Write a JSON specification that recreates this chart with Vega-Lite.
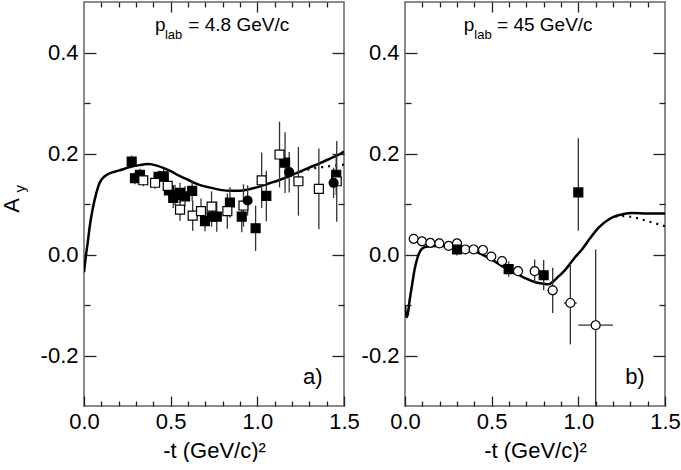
{
  "$schema": "https://vega.github.io/schema/vega-lite/v6.json",
  "background": "white",
  "padding": {"left": 0, "top": 0, "right": 0, "bottom": 0},
  "spacing": -1,
  "config": {
    "font": "Liberation Sans",
    "view": {"stroke": "#666", "strokeWidth": 1.5},
    "axis": {
      "labelFont": "Liberation Sans", "titleFont": "Liberation Sans",
      "labelFontSize": 22, "titleFontSize": 22, "titleFontWeight": "normal",
      "labelColor": "black", "titleColor": "black",
      "domain": false, "grid": false, "tickColor": "#222", "tickWidth": 1.3,
      "labelFlush": false, "labelOverlap": false
    }
  },
  "datasets": {
    "pts": [
      {"p":"a","s":"fsq","x":0.275,"y":0.184,"lo":0.172,"hi":0.196},
      {"p":"a","s":"fsq","x":0.294,"y":0.151,"lo":0.139,"hi":0.163},
      {"p":"a","s":"fsq","x":0.323,"y":0.158,"lo":0.146,"hi":0.170},
      {"p":"a","s":"fsq","x":0.43,"y":0.154,"lo":0.142,"hi":0.166},
      {"p":"a","s":"fsq","x":0.46,"y":0.155,"lo":0.140,"hi":0.170},
      {"p":"a","s":"fsq","x":0.49,"y":0.127,"lo":0.112,"hi":0.142},
      {"p":"a","s":"fsq","x":0.515,"y":0.112,"lo":0.092,"hi":0.132},
      {"p":"a","s":"fsq","x":0.525,"y":0.118,"lo":0.098,"hi":0.138},
      {"p":"a","s":"fsq","x":0.554,"y":0.122,"lo":0.102,"hi":0.142},
      {"p":"a","s":"fsq","x":0.583,"y":0.115,"lo":0.095,"hi":0.135},
      {"p":"a","s":"fsq","x":0.624,"y":0.126,"lo":0.106,"hi":0.146},
      {"p":"a","s":"fsq","x":0.698,"y":0.066,"lo":0.046,"hi":0.086},
      {"p":"a","s":"fsq","x":0.736,"y":0.075,"lo":0.055,"hi":0.095},
      {"p":"a","s":"fsq","x":0.766,"y":0.075,"lo":0.045,"hi":0.105},
      {"p":"a","s":"fsq","x":0.842,"y":0.103,"lo":0.073,"hi":0.133},
      {"p":"a","s":"fsq","x":0.91,"y":0.075,"lo":0.044,"hi":0.106},
      {"p":"a","s":"fsq","x":0.99,"y":0.052,"lo":0.007,"hi":0.097},
      {"p":"a","s":"fsq","x":1.052,"y":0.116,"lo":0.066,"hi":0.166},
      {"p":"a","s":"fsq","x":1.16,"y":0.182,"lo":0.122,"hi":0.242},
      {"p":"a","s":"fsq","x":1.455,"y":0.158,"lo":0.118,"hi":0.198},
      {"p":"a","s":"osq","x":0.342,"y":0.147,"lo":0.135,"hi":0.159},
      {"p":"a","s":"osq","x":0.41,"y":0.142,"lo":0.130,"hi":0.154},
      {"p":"a","s":"osq","x":0.483,"y":0.136,"lo":0.121,"hi":0.151},
      {"p":"a","s":"osq","x":0.554,"y":0.089,"lo":0.067,"hi":0.111},
      {"p":"a","s":"osq","x":0.627,"y":0.077,"lo":0.047,"hi":0.107},
      {"p":"a","s":"osq","x":0.675,"y":0.086,"lo":0.061,"hi":0.111},
      {"p":"a","s":"osq","x":0.736,"y":0.095,"lo":0.065,"hi":0.125},
      {"p":"a","s":"osq","x":0.827,"y":0.086,"lo":0.051,"hi":0.121},
      {"p":"a","s":"osq","x":0.92,"y":0.097,"lo":0.055,"hi":0.139},
      {"p":"a","s":"osq","x":1.025,"y":0.147,"lo":0.092,"hi":0.202},
      {"p":"a","s":"osq","x":1.128,"y":0.198,"lo":0.133,"hi":0.263},
      {"p":"a","s":"osq","x":1.237,"y":0.145,"lo":0.077,"hi":0.213},
      {"p":"a","s":"osq","x":1.355,"y":0.130,"lo":0.050,"hi":0.210},
      {"p":"a","s":"osq","x":1.458,"y":0.145,"lo":0.065,"hi":0.225},
      {"p":"a","s":"fci","x":0.944,"y":0.107,"lo":0.077,"hi":0.137},
      {"p":"a","s":"fci","x":1.184,"y":0.163,"lo":0.123,"hi":0.203},
      {"p":"a","s":"fci","x":1.44,"y":0.142,"lo":0.112,"hi":0.172},
      {"p":"b","s":"oci","x":0.05,"y":0.031,"lo":0.026,"hi":0.036},
      {"p":"b","s":"oci","x":0.098,"y":0.026,"lo":0.021,"hi":0.031},
      {"p":"b","s":"oci","x":0.146,"y":0.023,"lo":0.018,"hi":0.028},
      {"p":"b","s":"oci","x":0.198,"y":0.022,"lo":0.017,"hi":0.027},
      {"p":"b","s":"oci","x":0.252,"y":0.017,"lo":0.012,"hi":0.022},
      {"p":"b","s":"oci","x":0.30,"y":0.022,"lo":0.017,"hi":0.027},
      {"p":"b","s":"oci","x":0.348,"y":0.010,"lo":0.005,"hi":0.015},
      {"p":"b","s":"oci","x":0.396,"y":0.010,"lo":0.005,"hi":0.015},
      {"p":"b","s":"oci","x":0.45,"y":0.009,"lo":0.004,"hi":0.014},
      {"p":"b","s":"oci","x":0.498,"y":-0.004,"lo":-0.009,"hi":0.001},
      {"p":"b","s":"oci","x":0.56,"y":-0.013,"lo":-0.018,"hi":-0.008},
      {"p":"b","s":"oci","x":0.652,"y":-0.033,"lo":-0.043,"hi":-0.023,"xl":0.622,"xh":0.682},
      {"p":"b","s":"oci","x":0.748,"y":-0.033,"lo":-0.056,"hi":-0.010,"xl":0.72,"xh":0.776},
      {"p":"b","s":"oci","x":0.852,"y":-0.071,"lo":-0.116,"hi":-0.026,"xl":0.822,"xh":0.882},
      {"p":"b","s":"oci","x":0.954,"y":-0.096,"lo":-0.178,"hi":-0.018,"xl":0.917,"xh":0.991},
      {"p":"b","s":"oci","x":1.10,"y":-0.140,"lo":-0.32,"hi":0.01,"xl":1.0,"xh":1.2},
      {"p":"b","s":"fsq","x":0.30,"y":0.010,"lo":-0.002,"hi":0.022},
      {"p":"b","s":"fsq","x":0.598,"y":-0.029,"lo":-0.044,"hi":-0.014},
      {"p":"b","s":"fsq","x":0.80,"y":-0.041,"lo":-0.071,"hi":-0.011},
      {"p":"b","s":"fsq","x":1.0,"y":0.123,"lo":0.047,"hi":0.230}
    ],
    "curves": [
      {"p":"a","c":"solid","x":0.0,"y":-0.035},
      {"p":"a","c":"solid","x":0.01,"y":-0.005},
      {"p":"a","c":"solid","x":0.02,"y":0.02},
      {"p":"a","c":"solid","x":0.035,"y":0.06},
      {"p":"a","c":"solid","x":0.05,"y":0.09},
      {"p":"a","c":"solid","x":0.07,"y":0.12},
      {"p":"a","c":"solid","x":0.09,"y":0.142},
      {"p":"a","c":"solid","x":0.12,"y":0.155},
      {"p":"a","c":"solid","x":0.15,"y":0.161},
      {"p":"a","c":"solid","x":0.2,"y":0.166},
      {"p":"a","c":"solid","x":0.265,"y":0.173},
      {"p":"a","c":"solid","x":0.32,"y":0.177},
      {"p":"a","c":"solid","x":0.37,"y":0.179},
      {"p":"a","c":"solid","x":0.42,"y":0.176},
      {"p":"a","c":"solid","x":0.46,"y":0.171},
      {"p":"a","c":"solid","x":0.5,"y":0.165},
      {"p":"a","c":"solid","x":0.554,"y":0.155},
      {"p":"a","c":"solid","x":0.6,"y":0.148},
      {"p":"a","c":"solid","x":0.65,"y":0.14},
      {"p":"a","c":"solid","x":0.72,"y":0.133},
      {"p":"a","c":"solid","x":0.785,"y":0.128},
      {"p":"a","c":"solid","x":0.85,"y":0.126},
      {"p":"a","c":"solid","x":0.9,"y":0.126},
      {"p":"a","c":"solid","x":0.95,"y":0.129},
      {"p":"a","c":"solid","x":1.016,"y":0.135},
      {"p":"a","c":"solid","x":1.07,"y":0.141},
      {"p":"a","c":"solid","x":1.131,"y":0.148},
      {"p":"a","c":"solid","x":1.19,"y":0.156},
      {"p":"a","c":"solid","x":1.246,"y":0.164},
      {"p":"a","c":"solid","x":1.3,"y":0.172},
      {"p":"a","c":"solid","x":1.362,"y":0.181},
      {"p":"a","c":"solid","x":1.42,"y":0.19},
      {"p":"a","c":"solid","x":1.477,"y":0.199},
      {"p":"a","c":"solid","x":1.5,"y":0.204},
      {"p":"a","c":"dot","x":1.25,"y":0.164},
      {"p":"a","c":"dot","x":1.3,"y":0.169},
      {"p":"a","c":"dot","x":1.4,"y":0.174},
      {"p":"a","c":"dot","x":1.5,"y":0.178},
      {"p":"b","c":"solid","x":0.0,"y":-0.10},
      {"p":"b","c":"solid","x":0.008,"y":-0.124},
      {"p":"b","c":"solid","x":0.015,"y":-0.12},
      {"p":"b","c":"solid","x":0.025,"y":-0.095},
      {"p":"b","c":"solid","x":0.04,"y":-0.062},
      {"p":"b","c":"solid","x":0.055,"y":-0.03},
      {"p":"b","c":"solid","x":0.069,"y":-0.01},
      {"p":"b","c":"solid","x":0.085,"y":0.005},
      {"p":"b","c":"solid","x":0.1,"y":0.012},
      {"p":"b","c":"solid","x":0.13,"y":0.016},
      {"p":"b","c":"solid","x":0.175,"y":0.017},
      {"p":"b","c":"solid","x":0.22,"y":0.017},
      {"p":"b","c":"solid","x":0.271,"y":0.015},
      {"p":"b","c":"solid","x":0.32,"y":0.012},
      {"p":"b","c":"solid","x":0.367,"y":0.009},
      {"p":"b","c":"solid","x":0.42,"y":0.004},
      {"p":"b","c":"solid","x":0.463,"y":-0.003},
      {"p":"b","c":"solid","x":0.51,"y":-0.012},
      {"p":"b","c":"solid","x":0.56,"y":-0.023},
      {"p":"b","c":"solid","x":0.61,"y":-0.032},
      {"p":"b","c":"solid","x":0.656,"y":-0.04},
      {"p":"b","c":"solid","x":0.70,"y":-0.048},
      {"p":"b","c":"solid","x":0.752,"y":-0.055},
      {"p":"b","c":"solid","x":0.8,"y":-0.058},
      {"p":"b","c":"solid","x":0.829,"y":-0.059},
      {"p":"b","c":"solid","x":0.86,"y":-0.052},
      {"p":"b","c":"solid","x":0.887,"y":-0.043},
      {"p":"b","c":"solid","x":0.915,"y":-0.034},
      {"p":"b","c":"solid","x":0.944,"y":-0.022},
      {"p":"b","c":"solid","x":0.98,"y":-0.006},
      {"p":"b","c":"solid","x":1.021,"y":0.01},
      {"p":"b","c":"solid","x":1.07,"y":0.033},
      {"p":"b","c":"solid","x":1.117,"y":0.053},
      {"p":"b","c":"solid","x":1.16,"y":0.066},
      {"p":"b","c":"solid","x":1.213,"y":0.076},
      {"p":"b","c":"solid","x":1.26,"y":0.08},
      {"p":"b","c":"solid","x":1.31,"y":0.082},
      {"p":"b","c":"solid","x":1.4,"y":0.081},
      {"p":"b","c":"solid","x":1.5,"y":0.081},
      {"p":"b","c":"dot","x":1.213,"y":0.075},
      {"p":"b","c":"dot","x":1.27,"y":0.076},
      {"p":"b","c":"dot","x":1.327,"y":0.073},
      {"p":"b","c":"dot","x":1.4,"y":0.066},
      {"p":"b","c":"dot","x":1.5,"y":0.056}
    ],
    "ann": [
      {"p":"a","k":"main","x":0.41,"y":0.4426,"t":"p"},
      {"p":"a","k":"sub","x":0.467,"y":0.4276,"t":"lab"},
      {"p":"a","k":"main","x":0.602,"y":0.4426,"t":"= 4.8 GeV/c"},
      {"p":"a","k":"tag","x":1.264,"y":-0.256,"t":"a)"},
      {"p":"a","k":"ytitle","x":-0.415,"y":0.097,"t":"A"},
      {"p":"a","k":"ysub","x":-0.37,"y":0.13,"t":"y"},
      {"p":"b","k":"main","x":0.339,"y":0.4426,"t":"p"},
      {"p":"b","k":"sub","x":0.40,"y":0.4276,"t":"lab"},
      {"p":"b","k":"main","x":0.531,"y":0.4426,"t":"= 45 GeV/c"},
      {"p":"b","k":"tag","x":1.27,"y":-0.256,"t":"b)"}
    ]
  },
  "hconcat": [
    {
      "width": 260, "height": 404,
      "resolve": {"axis": {"x": "independent", "y": "independent"}},
      "layer": [
        {
          "data": {"name": "curves"},
          "transform": [{"filter": "datum.p == 'a' && datum.c == 'solid'"}],
          "mark": {"type": "line", "color": "black", "strokeWidth": 2.5, "interpolate": "monotone", "clip": true},
          "encoding": {
            "x": {"field": "x", "type": "quantitative", "scale": {"domain": [0, 1.5], "nice": false, "zero": false},
              "axis": {"orient": "bottom", "values": [0,0.1,0.2,0.3,0.4,0.5,0.6,0.7,0.8,0.9,1.0,1.1,1.2,1.3,1.4,1.5],
                "labelExpr": "abs(round(datum.value*10)) % 5 == 0 ? format(datum.value, '.1f') : ''",
                "tickSize": {"condition": {"test": "abs(round(datum.value*10)) % 5 == 0", "value": -10}, "value": -5},
                "labelPadding": 15, "title": "-t (GeV/c)²", "titlePadding": 3}},
            "y": {"field": "y", "type": "quantitative", "scale": {"domain": [-0.3, 0.5], "nice": false, "zero": false},
              "axis": {"orient": "left", "values": [-0.2,-0.1,0,0.1,0.2,0.3,0.4],
                "labelExpr": "abs(round(datum.value*10)) % 2 == 0 ? (datum.value < -0.001 ? '-' + format(-datum.value, '.1f') : format(abs(datum.value), '.1f')) : ''",
                "tickSize": {"condition": {"test": "abs(round(datum.value*10)) % 2 == 0", "value": -12}, "value": -6},
                "labelPadding": 18, "title": null}}
          }
        },
        {
          "data": {"name": "curves"},
          "transform": [{"filter": "datum.p == 'a' && datum.c == 'dot'"}],
          "mark": {"type": "line", "color": "black", "strokeWidth": 2.2, "strokeDash": [2, 5], "interpolate": "monotone", "clip": true},
          "encoding": {
            "x": {"field": "x", "type": "quantitative", "scale": {"domain": [0, 1.5], "nice": false, "zero": false},
              "axis": {"orient": "top", "values": [0.1,0.2,0.3,0.4,0.5,0.6,0.7,0.8,0.9,1.0,1.1,1.2,1.3,1.4],
                "labels": false, "title": null,
                "tickSize": {"condition": {"test": "abs(round(datum.value*10)) % 5 == 0", "value": -10}, "value": -5}}},
            "y": {"field": "y", "type": "quantitative", "scale": {"domain": [-0.3, 0.5], "nice": false, "zero": false},
              "axis": {"orient": "right", "values": [-0.2,-0.1,0,0.1,0.2,0.3,0.4], "labels": false, "title": null,
                "tickSize": {"condition": {"test": "abs(round(datum.value*10)) % 2 == 0", "value": -12}, "value": -6}}}
          }
        },
        {
          "data": {"name": "pts"},
          "transform": [{"filter": "datum.p == 'a'"}],
          "mark": {"type": "rule", "color": "#333", "strokeWidth": 1.3, "clip": true},
          "encoding": {
            "x": {"field": "x", "type": "quantitative", "scale": {"domain": [0, 1.5]}, "axis": null},
            "y": {"field": "lo", "type": "quantitative", "scale": {"domain": [-0.3, 0.5]}, "axis": null},
            "y2": {"field": "hi"}
          }
        },
        {
          "data": {"name": "pts"},
          "transform": [{"filter": "datum.p == 'a'"}],
          "mark": {"type": "point", "filled": true, "stroke": "black", "strokeWidth": 1.2, "size": 80, "opacity": 1, "clip": true},
          "encoding": {
            "x": {"field": "x", "type": "quantitative", "scale": {"domain": [0, 1.5]}, "axis": null},
            "y": {"field": "y", "type": "quantitative", "scale": {"domain": [-0.3, 0.5]}, "axis": null},
            "shape": {"field": "s", "type": "nominal", "scale": {"domain": ["fsq","osq","fci","oci"], "range": ["square","square","circle","circle"]}, "legend": null},
            "fill": {"field": "s", "type": "nominal", "scale": {"domain": ["fsq","osq","fci","oci"], "range": ["#000","#fff","#000","#fff"]}, "legend": null}
          }
        },
        {
          "data": {"name": "ann"},
          "transform": [{"filter": "datum.p == 'a' && datum.k == 'main'"}],
          "mark": {"type": "text", "align": "left", "baseline": "alphabetic", "fontSize": 19, "color": "black"},
          "encoding": {
            "x": {"field": "x", "type": "quantitative", "scale": {"domain": [0, 1.5]}, "axis": null},
            "y": {"field": "y", "type": "quantitative", "scale": {"domain": [-0.3, 0.5]}, "axis": null},
            "text": {"field": "t"}
          }
        },
        {
          "data": {"name": "ann"},
          "transform": [{"filter": "datum.p == 'a' && datum.k == 'sub'"}],
          "mark": {"type": "text", "align": "left", "baseline": "alphabetic", "fontSize": 13, "color": "black"},
          "encoding": {
            "x": {"field": "x", "type": "quantitative", "scale": {"domain": [0, 1.5]}, "axis": null},
            "y": {"field": "y", "type": "quantitative", "scale": {"domain": [-0.3, 0.5]}, "axis": null},
            "text": {"field": "t"}
          }
        },
        {
          "data": {"name": "ann"},
          "transform": [{"filter": "datum.p == 'a' && datum.k == 'tag'"}],
          "mark": {"type": "text", "align": "left", "baseline": "alphabetic", "fontSize": 22, "color": "black"},
          "encoding": {
            "x": {"field": "x", "type": "quantitative", "scale": {"domain": [0, 1.5]}, "axis": null},
            "y": {"field": "y", "type": "quantitative", "scale": {"domain": [-0.3, 0.5]}, "axis": null},
            "text": {"field": "t"}
          }
        },
        {
          "data": {"name": "ann"},
          "transform": [{"filter": "datum.p == 'a' && datum.k == 'ytitle'"}],
          "mark": {"type": "text", "align": "center", "baseline": "middle", "fontSize": 22, "angle": 270, "color": "black"},
          "encoding": {
            "x": {"field": "x", "type": "quantitative", "scale": {"domain": [0, 1.5]}, "axis": null},
            "y": {"field": "y", "type": "quantitative", "scale": {"domain": [-0.3, 0.5]}, "axis": null},
            "text": {"field": "t"}
          }
        },
        {
          "data": {"name": "ann"},
          "transform": [{"filter": "datum.p == 'a' && datum.k == 'ysub'"}],
          "mark": {"type": "text", "align": "center", "baseline": "middle", "fontSize": 15, "angle": 270, "color": "black"},
          "encoding": {
            "x": {"field": "x", "type": "quantitative", "scale": {"domain": [0, 1.5]}, "axis": null},
            "y": {"field": "y", "type": "quantitative", "scale": {"domain": [-0.3, 0.5]}, "axis": null},
            "text": {"field": "t"}
          }
        }
      ]
    },
    {
      "width": 260, "height": 404,
      "resolve": {"axis": {"x": "independent", "y": "independent"}},
      "layer": [
        {
          "data": {"name": "curves"},
          "transform": [{"filter": "datum.p == 'b' && datum.c == 'solid'"}],
          "mark": {"type": "line", "color": "black", "strokeWidth": 2.5, "interpolate": "monotone", "clip": true},
          "encoding": {
            "x": {"field": "x", "type": "quantitative", "scale": {"domain": [0, 1.5], "nice": false, "zero": false},
              "axis": {"orient": "bottom", "values": [0,0.1,0.2,0.3,0.4,0.5,0.6,0.7,0.8,0.9,1.0,1.1,1.2,1.3,1.4,1.5],
                "labelExpr": "abs(round(datum.value*10)) % 5 == 0 ? format(datum.value, '.1f') : ''",
                "tickSize": {"condition": {"test": "abs(round(datum.value*10)) % 5 == 0", "value": -10}, "value": -5},
                "labelPadding": 15, "title": "-t (GeV/c)²", "titlePadding": 3}},
            "y": {"field": "y", "type": "quantitative", "scale": {"domain": [-0.3, 0.5], "nice": false, "zero": false},
              "axis": {"orient": "left", "values": [-0.2,-0.1,0,0.1,0.2,0.3,0.4],
                "labelExpr": "abs(round(datum.value*10)) % 2 == 0 ? (datum.value < -0.001 ? '-' + format(-datum.value, '.1f') : format(abs(datum.value), '.1f')) : ''",
                "tickSize": {"condition": {"test": "abs(round(datum.value*10)) % 2 == 0", "value": -12}, "value": -6},
                "labelPadding": 18, "title": null}}
          }
        },
        {
          "data": {"name": "curves"},
          "transform": [{"filter": "datum.p == 'b' && datum.c == 'dot'"}],
          "mark": {"type": "line", "color": "black", "strokeWidth": 2.2, "strokeDash": [2, 5], "interpolate": "monotone", "clip": true},
          "encoding": {
            "x": {"field": "x", "type": "quantitative", "scale": {"domain": [0, 1.5], "nice": false, "zero": false},
              "axis": {"orient": "top", "values": [0.1,0.2,0.3,0.4,0.5,0.6,0.7,0.8,0.9,1.0,1.1,1.2,1.3,1.4],
                "labels": false, "title": null,
                "tickSize": {"condition": {"test": "abs(round(datum.value*10)) % 5 == 0", "value": -10}, "value": -5}}},
            "y": {"field": "y", "type": "quantitative", "scale": {"domain": [-0.3, 0.5], "nice": false, "zero": false},
              "axis": {"orient": "right", "values": [-0.2,-0.1,0,0.1,0.2,0.3,0.4], "labels": false, "title": null,
                "tickSize": {"condition": {"test": "abs(round(datum.value*10)) % 2 == 0", "value": -12}, "value": -6}}}
          }
        },
        {
          "data": {"name": "pts"},
          "transform": [{"filter": "datum.p == 'b'"}],
          "mark": {"type": "rule", "color": "#333", "strokeWidth": 1.3, "clip": true},
          "encoding": {
            "x": {"field": "x", "type": "quantitative", "scale": {"domain": [0, 1.5]}, "axis": null},
            "y": {"field": "lo", "type": "quantitative", "scale": {"domain": [-0.3, 0.5]}, "axis": null},
            "y2": {"field": "hi"}
          }
        },
        {
          "data": {"name": "pts"},
          "transform": [{"filter": "datum.p == 'b' && isValid(datum.xl)"}],
          "mark": {"type": "rule", "color": "#333", "strokeWidth": 1.3, "clip": true},
          "encoding": {
            "x": {"field": "xl", "type": "quantitative", "scale": {"domain": [0, 1.5]}, "axis": null},
            "x2": {"field": "xh"},
            "y": {"field": "y", "type": "quantitative", "scale": {"domain": [-0.3, 0.5]}, "axis": null}
          }
        },
        {
          "data": {"name": "pts"},
          "transform": [{"filter": "datum.p == 'b'"}],
          "mark": {"type": "point", "filled": true, "stroke": "black", "strokeWidth": 1.2, "size": 80, "opacity": 1, "clip": true},
          "encoding": {
            "x": {"field": "x", "type": "quantitative", "scale": {"domain": [0, 1.5]}, "axis": null},
            "y": {"field": "y", "type": "quantitative", "scale": {"domain": [-0.3, 0.5]}, "axis": null},
            "shape": {"field": "s", "type": "nominal", "scale": {"domain": ["fsq","osq","fci","oci"], "range": ["square","square","circle","circle"]}, "legend": null},
            "fill": {"field": "s", "type": "nominal", "scale": {"domain": ["fsq","osq","fci","oci"], "range": ["#000","#fff","#000","#fff"]}, "legend": null}
          }
        },
        {
          "data": {"name": "ann"},
          "transform": [{"filter": "datum.p == 'b' && datum.k == 'main'"}],
          "mark": {"type": "text", "align": "left", "baseline": "alphabetic", "fontSize": 19, "color": "black"},
          "encoding": {
            "x": {"field": "x", "type": "quantitative", "scale": {"domain": [0, 1.5]}, "axis": null},
            "y": {"field": "y", "type": "quantitative", "scale": {"domain": [-0.3, 0.5]}, "axis": null},
            "text": {"field": "t"}
          }
        },
        {
          "data": {"name": "ann"},
          "transform": [{"filter": "datum.p == 'b' && datum.k == 'sub'"}],
          "mark": {"type": "text", "align": "left", "baseline": "alphabetic", "fontSize": 13, "color": "black"},
          "encoding": {
            "x": {"field": "x", "type": "quantitative", "scale": {"domain": [0, 1.5]}, "axis": null},
            "y": {"field": "y", "type": "quantitative", "scale": {"domain": [-0.3, 0.5]}, "axis": null},
            "text": {"field": "t"}
          }
        },
        {
          "data": {"name": "ann"},
          "transform": [{"filter": "datum.p == 'b' && datum.k == 'tag'"}],
          "mark": {"type": "text", "align": "left", "baseline": "alphabetic", "fontSize": 22, "color": "black"},
          "encoding": {
            "x": {"field": "x", "type": "quantitative", "scale": {"domain": [0, 1.5]}, "axis": null},
            "y": {"field": "y", "type": "quantitative", "scale": {"domain": [-0.3, 0.5]}, "axis": null},
            "text": {"field": "t"}
          }
        }
      ]
    }
  ]
}
